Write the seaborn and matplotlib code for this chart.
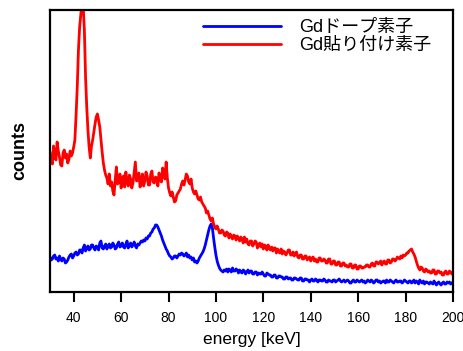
import numpy as np
import pandas as pd
import seaborn as sns
import matplotlib.pyplot as plt

sns.set_style('white')
plt.rcParams['font.family'] = ['Liberation Sans', 'Noto Sans CJK JP', 'DejaVu Sans']
plt.rcParams['text.color'] = 'black'
plt.rcParams['axes.labelcolor'] = 'black'
plt.rcParams['xtick.color'] = 'black'

# energy axis in keV, one channel per 0.5 keV
energy = np.arange(30, 200.5, 0.5)

# counts (arbitrary units), 20 channels per row = 10 keV
gd_doped = [
    35, 32, 33, 36, 37, 33, 34, 31, 36, 33, 31, 34, 33, 29, 30, 32, 35, 37, 38, 34,
    36, 39, 40, 37, 38, 42, 42, 39, 44, 47, 41, 44, 46, 42, 43, 47, 47, 44, 42, 46,
    45, 42, 49, 51, 44, 43, 46, 48, 43, 46, 48, 44, 45, 49, 47, 43, 44, 48, 50, 45,
    46, 49, 45, 44, 48, 51, 44, 47, 49, 45, 47, 50, 46, 44, 48, 47, 49, 51, 50, 52,
    51, 54, 53, 56, 56, 59, 60, 63, 64, 67, 67, 65, 62, 59, 56, 52, 49, 46, 43, 41,
    38, 36, 35, 33, 34, 36, 36, 34, 36, 38, 37, 39, 38, 36, 37, 39, 35, 37, 34, 35,
    32, 34, 30, 31, 29, 31, 34, 36, 38, 40, 43, 47, 52, 57, 62, 66, 68, 64, 54, 45,
    37, 31, 27, 24, 22, 21, 20, 22, 21, 23, 20, 23, 22, 20, 24, 21, 21, 23, 22, 19,
    22, 20, 19, 22, 21, 18, 20, 22, 19, 21, 21, 18, 18, 20, 20, 17, 19, 18, 18, 20,
    18, 16, 16, 19, 18, 17, 17, 15, 15, 17, 17, 14, 14, 16, 16, 15, 15, 13, 13, 15,
    15, 13, 14, 14, 12, 12, 14, 14, 13, 12, 12, 14, 14, 11, 11, 13, 13, 12, 12, 10,
    12, 13, 11, 11, 13, 12, 10, 12, 12, 11, 11, 13, 12, 10, 10, 12, 11, 11, 10, 12,
    12, 10, 11, 12, 13, 11, 10, 11, 12, 10, 11, 12, 11, 9, 9, 11, 12, 10, 10, 12,
    11, 10, 11, 12, 10, 11, 9, 10, 12, 11, 10, 12, 11, 9, 10, 12, 12, 10, 11, 9,
    10, 11, 11, 9, 12, 10, 10, 12, 11, 10, 9, 11, 12, 10, 10, 11, 11, 9, 10, 12,
    11, 10, 9, 11, 11, 9, 10, 12, 9, 11, 10, 8, 12, 10, 9, 11, 8, 10, 10, 9,
    8, 10, 9, 8, 11, 9, 7, 9, 10, 8, 7, 9, 10, 8, 8, 10, 9, 10, 8, 9,
    10,
]
gd_attached = [
    140, 131, 128, 146, 138, 132, 150, 141, 135, 127, 126, 139, 142, 134, 138, 129, 133, 141, 136, 139,
    145, 152, 177, 205, 242, 265, 277, 290, 286, 262, 215, 185, 162, 145, 134, 146, 152, 160, 168, 175,
    178, 172, 165, 152, 140, 129, 122, 117, 114, 108, 118, 106, 110, 101, 97, 112, 125, 108, 110, 118,
    104, 114, 116, 105, 120, 110, 106, 117, 113, 104, 109, 120, 130, 111, 112, 119, 105, 113, 118, 106,
    111, 120, 116, 107, 107, 118, 121, 110, 109, 115, 114, 106, 119, 112, 110, 124, 122, 113, 130, 114,
    104, 99, 96, 100, 95, 90, 91, 97, 99, 101, 103, 108, 111, 107, 112, 118, 116, 110, 108, 113,
    104, 100, 98, 101, 97, 93, 92, 95, 90, 88, 86, 84, 79, 81, 77, 73, 71, 74, 68, 65,
    63, 66, 63, 59, 59, 62, 61, 57, 56, 60, 59, 54, 58, 55, 53, 57, 56, 52, 56, 54,
    51, 55, 53, 49, 55, 50, 53, 48, 47, 51, 51, 46, 48, 51, 50, 44, 47, 49, 45, 48,
    43, 47, 46, 42, 47, 44, 42, 45, 41, 44, 44, 39, 43, 40, 39, 43, 38, 41, 40, 37,
    39, 42, 42, 37, 37, 40, 36, 39, 40, 35, 34, 37, 37, 33, 33, 36, 36, 32, 34, 35,
    31, 34, 35, 31, 33, 30, 30, 34, 34, 31, 31, 33, 32, 29, 29, 33, 33, 28, 28, 31,
    31, 27, 27, 30, 30, 26, 26, 29, 29, 26, 27, 25, 25, 28, 28, 24, 24, 27, 27, 23,
    23, 26, 26, 24, 24, 25, 25, 27, 27, 25, 25, 28, 29, 26, 26, 30, 30, 28, 29, 31,
    27, 30, 31, 28, 28, 32, 32, 29, 30, 33, 33, 31, 32, 35, 34, 33, 36, 34, 37, 36,
    37, 39, 39, 41, 42, 43, 40, 38, 35, 31, 27, 24, 22, 25, 24, 21, 20, 23, 22, 20,
    21, 19, 19, 22, 22, 18, 18, 21, 21, 19, 20, 17, 17, 20, 21, 18, 18, 21, 20, 18,
    19,
]
labels = ['Gdドープ素子', 'Gd貼り付け素子']
colors = ['#0000ff', '#ff0000']
xticks = [40, 60, 80, 100, 120, 140, 160, 180, 200]

df = pd.DataFrame({
    'energy': np.concatenate([energy, energy]),
    'counts': gd_doped + gd_attached,
    'sample': [labels[0]] * len(energy) + [labels[1]] * len(energy),
})

fig = plt.figure(figsize=(4.64, 3.51), dpi=100)
ax = fig.add_axes([50 / 464, 1 - 292 / 351, 403 / 464, 282 / 351])
sns.lineplot(data=df, x='energy', y='counts', hue='sample', hue_order=labels,
             palette=colors, estimator=None, linewidth=2.0, ax=ax)

ax.set_xlim(30, 200)
ax.set_ylim(0, 282)
ax.set_xticks(xticks)
ax.set_yticks([])
ax.tick_params(axis='x', direction='out', length=7.5, width=1.5, pad=6,
               labelsize=10, bottom=True)
for s in ax.spines.values():
    s.set_linewidth(1.6)
    s.set_color('black')

ax.set_xlabel('energy [keV]', fontsize=12.5, labelpad=5)
ax.set_ylabel('counts', fontsize=13, fontweight='bold')
ax.yaxis.set_label_coords(-0.055, 0.5)

handles, _ = ax.get_legend_handles_labels()
ax.legend(handles, labels, loc='upper left', bbox_to_anchor=(203 / 464, 1 - 19 / 351),
          bbox_transform=fig.transFigure, frameon=False, fontsize=13,
          handlelength=4.3, handletextpad=1.05, labelspacing=0.05,
          borderpad=0, borderaxespad=0)

fig.savefig('out.png', dpi=100)
